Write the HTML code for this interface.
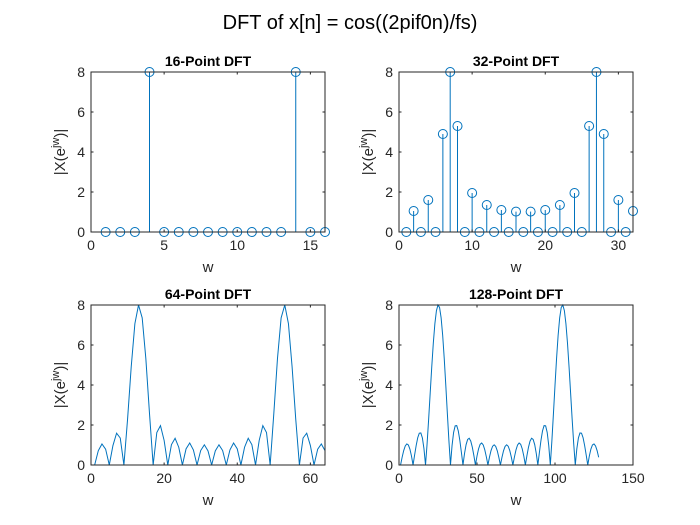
<!DOCTYPE html>
<html><head><meta charset="utf-8"><style>
body{margin:0;background:#fff}
svg{display:block;font-family:"Liberation Sans",Arial,sans-serif}
</style></head><body>
<svg id="fig" width="700" height="525" viewBox="0 0 700 525">
<rect width="700" height="525" fill="#fff"/>
<text x="350" y="29" text-anchor="middle" font-size="20" fill="#000">DFT of x[n] = cos((2pif0n)/fs)</text>
</svg>
<script>
// signal samples x[n], n=0..15
const signal = [1, 0.3827, -0.7071, -0.9239, 0, 0.9239, 0.7071, -0.3827, -1, -0.3827, 0.7071, 0.9239, 0, -0.9239, -0.7071, 0.3827];
const mag16 = [0,0,0,8,0,0,0,0,0,0,0,0,0,8,0,0];
const mag32 = [0,1.05,0,1.6,0,4.9,8,5.3,0,1.95,0,1.35,0,1.1,0,1.02,0,1.02,0,1.1,0,1.35,0,1.95,0,5.3,8,4.9,0,1.6,0,1.05];
const yTicks = [0,2,4,6,8];
const xTicks16 = [0,5,10,15];
const xTicks32 = [0,10,20,30];
const xTicks64 = [0,20,40,60];
const xTicks128 = [0,50,100,150];
const titles = ['16-Point DFT','32-Point DFT','64-Point DFT','128-Point DFT'];

function dftMag(x, N){
  const out=[];
  for(let k=0;k<N;k++){let re=0,im=0;
    for(let n=0;n<x.length;n++){const a=-2*Math.PI*k*n/N;re+=x[n]*Math.cos(a);im+=x[n]*Math.sin(a);}
    out.push(Math.hypot(re,im));}
  return out;
}
const mag64 = dftMag(signal,64);
const mag128 = dftMag(signal,128);

const NS='http://www.w3.org/2000/svg';
const svg=document.getElementById('fig');
function el(tag,attrs,parent){const e=document.createElementNS(NS,tag);for(const k in attrs)e.setAttribute(k,attrs[k]);(parent||svg).appendChild(e);return e;}
const C='#0072BD', AX='#262626';

const panels=[
 {x0:91,x1:325,y0:72,y1:232,xmax:16,xt:xTicks16,data:mag16,stem:true,name:'dft16'},
 {x0:399,x1:633,y0:72,y1:232,xmax:32,xt:xTicks32,data:mag32,stem:true,name:'dft32'},
 {x0:91,x1:325,y0:305,y1:465,xmax:64,xt:xTicks64,data:mag64,stem:false,name:'dft64'},
 {x0:399,x1:633,y0:305,y1:465,xmax:150,xt:xTicks128,data:mag128,stem:false,name:'dft128'}
];
panels.forEach((p,i)=>{
  const g=el('g',{});
  
  
  const sx=v=>p.x0+(v/p.xmax)*(p.x1-p.x0);
  const sy=v=>p.y1-(v/8)*(p.y1-p.y0);
  if(p.stem){
    p.data.forEach((v,k)=>{
      const X=sx(k+1),Y=sy(v);
      const l=el('line',{x1:X,y1:sy(0),x2:X,y2:Y,stroke:C,'stroke-width':1},g);
      
      
      const c=el('circle',{cx:X,cy:Y,r:4.5,fill:'none',stroke:C,'stroke-width':1},g);
      
      
    });
  } else {
    const d=p.data.map((v,k)=>(k?'L':'M')+sx(k+1).toFixed(2)+','+sy(v).toFixed(2)).join('');
    const pl=el('path',{d:d,fill:'none',stroke:C,'stroke-width':1},g);
    
    
  }
  const b=el('rect',{x:p.x0,y:p.y0,width:p.x1-p.x0,height:p.y1-p.y0,fill:'none',stroke:AX,'stroke-width':1},g);
  
  
  p.xt.forEach(t=>{
    const X=sx(t);
    el('line',{x1:X,y1:p.y1,x2:X,y2:p.y1-2.5,stroke:AX},g);
    el('line',{x1:X,y1:p.y0,x2:X,y2:p.y0+2.5,stroke:AX},g);
    const tx=el('text',{x:X,y:p.y1+18,'text-anchor':'middle','font-size':14,fill:AX},g);
    tx.textContent=t;
    
    
  });
  yTicks.forEach(t=>{
    const Y=sy(t);
    el('line',{x1:p.x0,y1:Y,x2:p.x0+2.5,y2:Y,stroke:AX},g);
    el('line',{x1:p.x1,y1:Y,x2:p.x1-2.5,y2:Y,stroke:AX},g);
    const tx=el('text',{x:p.x0-6,y:Y+5,'text-anchor':'end','font-size':14,fill:AX},g);
    tx.textContent=t;
    
    
  });
  const ti=el('text',{x:(p.x0+p.x1)/2,y:p.y0-6,'text-anchor':'middle','font-size':14,'font-weight':'bold',fill:'#000'},g);
  ti.textContent=titles[i];
  
  
  const xl=el('text',{x:(p.x0+p.x1)/2,y:p.y1+40,'text-anchor':'middle','font-size':15,fill:AX},g);
  xl.textContent='w';
  
  
  const yl=el('text',{transform:`translate(${p.x0-26},${(p.y0+p.y1)/2}) rotate(-90)`,'text-anchor':'middle','font-size':15,fill:AX},g);
  yl.innerHTML='|X(e<tspan font-size="11" dy="-6">jw</tspan><tspan dy="6">)|</tspan>';
  
  
});
</script>
</body></html>
